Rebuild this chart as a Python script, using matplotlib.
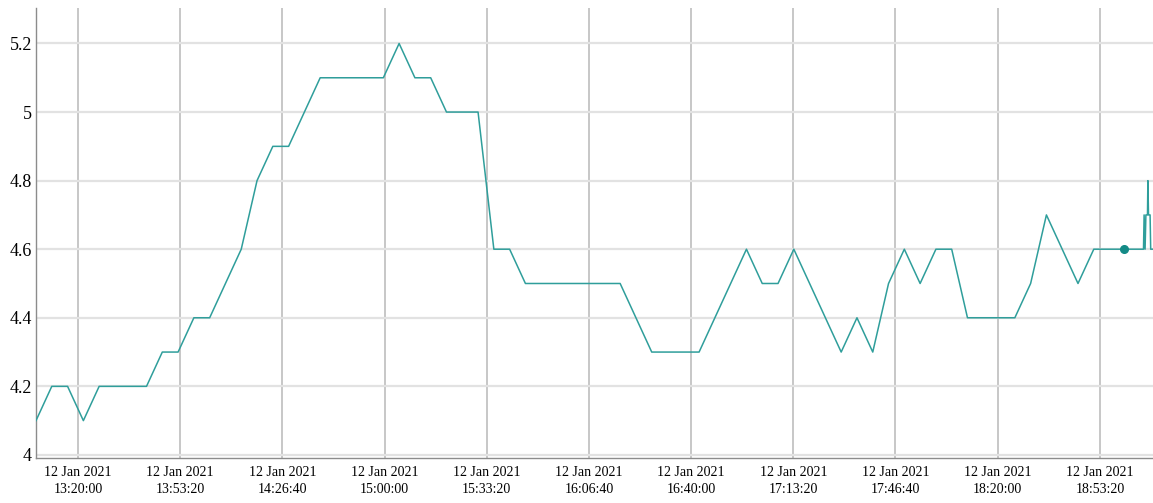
import matplotlib
matplotlib.use("Agg")
import matplotlib.pyplot as plt
import pandas as pd

plt.rcParams['font.family'] = ['Liberation Serif', 'DejaVu Serif']

day = "2021-01-12 "
times = [
    "13:06:18", "13:11:27", "13:16:36", "13:21:45", "13:26:54", "13:42:21",
    "13:47:30", "13:52:39", "13:57:48", "14:02:57", "14:13:15", "14:18:24",
    "14:23:33", "14:28:42", "14:39:00", "14:59:36", "15:04:45", "15:09:54",
    "15:15:03", "15:20:12", "15:30:30", "15:35:39", "15:40:48", "15:45:57",
    "16:16:51", "16:27:09", "16:42:36", "16:58:03", "17:03:12", "17:08:21",
    "17:13:30", "17:28:57", "17:34:06", "17:39:15", "17:44:24", "17:49:33",
    "17:54:42", "17:59:51", "18:05:00", "18:10:09", "18:25:36", "18:30:45",
    "18:35:54", "18:46:12", "18:51:21", "19:01:10", "19:07:34", "19:07:46",
    "19:08:05", "19:08:21", "19:08:52", "19:09:00", "19:09:12", "19:09:43",
    "19:09:55", "19:10:40",
]
values = [
    4.1, 4.2, 4.2, 4.1, 4.2, 4.2,
    4.3, 4.3, 4.4, 4.4, 4.6, 4.8,
    4.9, 4.9, 5.1, 5.1, 5.2, 5.1,
    5.1, 5.0, 5.0, 4.6, 4.6, 4.5,
    4.5, 4.3, 4.3, 4.6, 4.5, 4.5,
    4.6, 4.3, 4.4, 4.3, 4.5, 4.6,
    4.5, 4.6, 4.6, 4.4, 4.4, 4.5,
    4.7, 4.5, 4.6, 4.6, 4.6, 4.7,
    4.6, 4.7, 4.7, 4.8, 4.7, 4.7,
    4.6, 4.6,
]
marker_time = "19:01:10"
marker_value = 4.6

tick_times = ["13:20:00", "13:53:20", "14:26:40", "15:00:00", "15:33:20",
              "16:06:40", "16:40:00", "17:13:20", "17:46:40", "18:20:00", "18:53:20"]
tick_labels = ["12 Jan 2021\n" + t for t in tick_times]
y_ticks = [4.0, 4.2, 4.4, 4.6, 4.8, 5.0, 5.2]
y_tick_labels = ["4", "4.2", "4.4", "4.6", "4.8", "5", "5.2"]

x = pd.to_datetime([day + t for t in times])
xt = pd.to_datetime([day + t for t in tick_times])

fig = plt.figure(figsize=(11.53, 5.03), dpi=100)
ax = fig.add_axes([36 / 1153, 45 / 503, 1 - 36 / 1153, (458 - 8) / 503])

ax.plot(x, values, color="#2f9e9b", linewidth=1.1, zorder=3)
ax.plot(pd.to_datetime([day + marker_time]), [marker_value], 'o',
        color="#138a86", markersize=5.5, zorder=4)

ax.set_xlim(pd.Timestamp(day + "13:06:18"), pd.Timestamp(day + "19:10:40"))
ax.set_ylim(3.991, 5.3035)

ax.set_xticks(xt)
ax.set_xticklabels(tick_labels, fontsize=10, linespacing=1.35)
ax.set_yticks(y_ticks)
ax.set_yticklabels(y_tick_labels, fontsize=13)

ax.tick_params(axis='both', length=0, colors='black')
ax.tick_params(axis='x', pad=6)
ax.tick_params(axis='y', pad=3)

ax.grid(axis='x', color="#bdbdbd", linewidth=1.2, zorder=1)
ax.grid(axis='y', color="#e2e2e2", linewidth=1.6, zorder=1)
ax.set_axisbelow(True)

for s in ['top', 'right']:
    ax.spines[s].set_visible(False)
ax.spines['left'].set_color("#8c8c8c")
ax.spines['bottom'].set_color("#8c8c8c")
ax.spines['left'].set_linewidth(1.0)
ax.spines['bottom'].set_linewidth(1.0)

fig.savefig("out.png", dpi=100)
